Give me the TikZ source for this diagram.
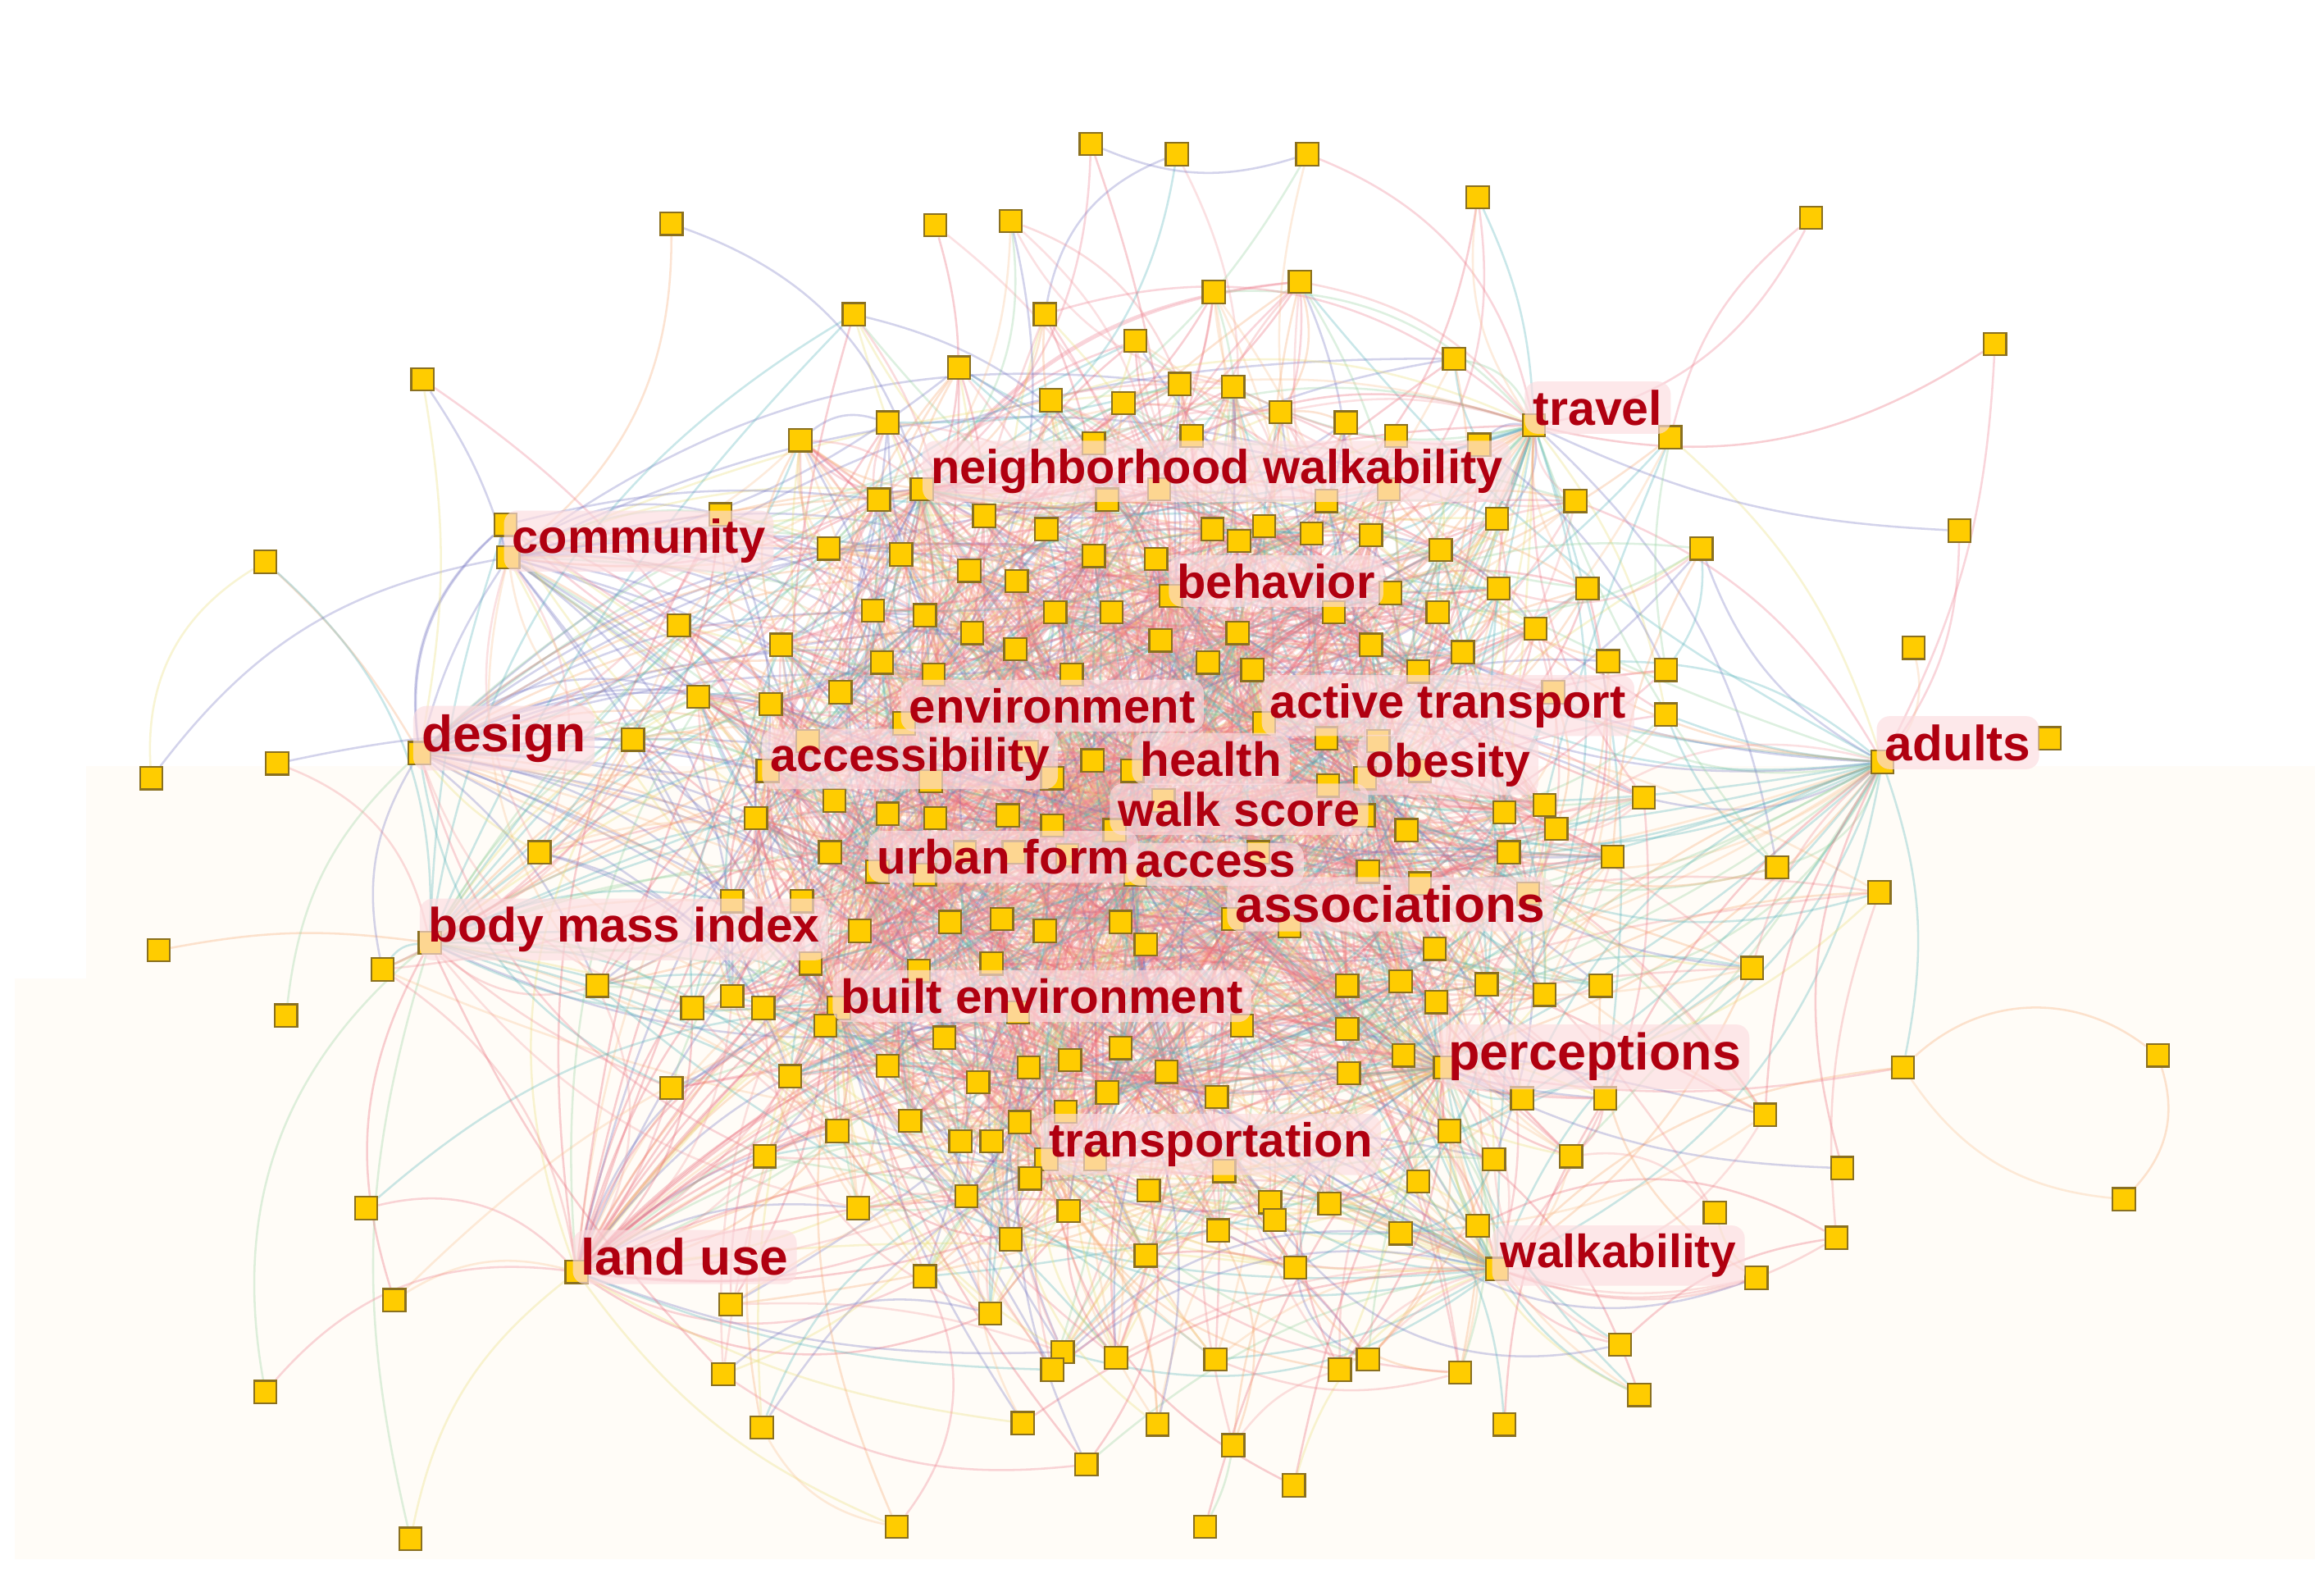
\documentclass[tikz,border=0pt]{standalone}
\usepackage{fontspec}
\setmainfont{Liberation Sans}
\definecolor{sqfill}{HTML}{FFCC00}
\definecolor{sqborder}{HTML}{8A7020}
\definecolor{labred}{HTML}{B00010}
\definecolor{labpink}{HTML}{FCDCE0}
\definecolor{cream}{HTML}{FFFCF7}
\definecolor{ecol1}{HTML}{EE7788}
\definecolor{ecol2}{HTML}{F08890}
\definecolor{ecol3}{HTML}{E86070}
\definecolor{ecol4}{HTML}{F49AA0}
\definecolor{ecol5}{HTML}{4FB0B8}
\definecolor{ecol6}{HTML}{6F6FC0}
\definecolor{ecol7}{HTML}{8FD09A}
\definecolor{ecol8}{HTML}{F7A56B}
\definecolor{ecol9}{HTML}{F9BE8C}
\definecolor{ecol10}{HTML}{E8DC70}
\newcommand\labsize[1]{\fontsize{#1pt}{#1pt}\selectfont\bfseries}
\pgfdeclarelayer{bg}\pgfdeclarelayer{edges}\pgfsetlayers{bg,edges,main}
\begin{document}
\begin{tikzpicture}[x=0.01cm,y=-0.01cm,
  sq/.style={draw=sqborder,fill=sqfill,line width=0.35pt,minimum size=4.3pt,inner sep=0pt},
  lab/.style={fill=labpink,fill opacity=0.65,text opacity=1,text=labred,rounded corners=2.5pt,inner sep=1.6pt},
  edge/.style={line width=0.4pt,draw opacity=0.3}]
\begin{pgfonlayer}{bg}
\fill[white] (0,0) rectangle (1568,1058);
\fill[cream] (58,517) rectangle (1562,1052);
\fill[cream] (10,660) rectangle (58,1052);
\end{pgfonlayer}
\useasboundingbox (0,0) rectangle (1568,1058);
% nodes: 1-21 are the labelled hubs
\foreach \x/\y [count=\i] in {622/330,1035/287,343/376,790/402,610/488,853/488,283/508,518/520,764/520,921/525,1270/514,752/560,592/588,766/590,832/620,290/636,566/680,975/720,706/782,389/858,1010/856,
736/97,794/104,882/104,997/133,1222/147,453/151,631/152,682/149,877/190,819/197,576/212,705/212,766/230,1346/232,981/242,647/248,285/256,796/259,832/261,709/270,758/272,864/278,908/285,599/285,540/297,738/299,804/294,942/294,998/300,1127/295,593/337,664/348,706/357,747/337,782/330,818/357,853/355,895/338,937/330,1010/350,1063/338,341/354,486/347,1322/358,559/370,608/374,654/385,686/392,738/375,780/377,836/365,885/360,925/361,972/371,1148/370,179/379,1011/397,1071/397,938/400,589/412,624/415,656/427,712/413,750/413,835/427,900/413,970/413,458/422,1291/437,1036/424,527/435,595/447,630/455,685/438,723/455,783/432,815/447,845/452,925/435,957/453,987/440,1085/446,1124/452,471/470,520/475,567/467,1124/482,1048/467,427/499,545/500,693/507,737/513,895/498,930/500,958/520,1383/498,187/515,102/525,628/527,710/525,896/530,510/552,563/540,599/549,631/552,680/550,710/557,785/540,920/550,949/560,1015/548,1042/543,1050/559,1109/538,364/575,560/575,624/590,651/575,684/575,720/577,1018/575,1088/578,1199/585,923/588,958/596,849/575,494/608,541/608,580/628,641/622,676/620,705/628,756/622,773/637,870/625,968/640,1268/602,1031/603,107/641,258/654,547/650,620/655,669/650,1182/653,403/665,467/680,494/672,515/680,557/692,637/700,687/683,909/665,945/662,969/676,1003/664,1042/671,1080/665,193/685,838/692,909/694,599/719,660/730,694/720,722/715,756/707,787/723,910/724,947/712,533/726,453/734,614/756,688/757,719/750,747/737,821/740,1027/741,1083/741,1191/752,516/780,565/763,648/770,669/770,695/795,739/782,775/803,826/790,978/763,1008/782,1060/780,1243/788,247/815,579/815,652/807,721/817,857/811,860/823,897/812,957/797,1157/818,1239/835,997/827,682/836,822/830,945/832,773/847,1185/862,624/861,874/855,266/877,493/880,668/886,717/912,710/924,753/916,820/917,904/924,923/917,985/926,1093/907,1106/941,488/927,179/939,514/963,690/960,781/961,832/975,1015/961,733/988,873/1002,605/1030,813/1030}
{\node[sq] (n\i) at (\x,\y) {};
 \expandafter\xdef\csname px\i\endcsname{\x}%
 \expandafter\xdef\csname py\i\endcsname{\y}%
 \xdef\nnodes{\i}}
% outlying keywords
\node[sq] (pa) at (1284,720) {};
\node[sq] (pb) at (1456,712) {};
\node[sq] (pc) at (1433,809) {};
\node[sq] (pd) at (277,1038) {};
% connectors
\pgfmathsetseed{4242}
\begin{pgfonlayer}{edges}
\draw[edge,draw=ecol8] (pa) to[bend left=40] (pb);
\draw[edge,draw=ecol8] (pb) to[bend left=30] (pc);
\draw[edge,draw=ecol9] (pa) to[bend right=25] (pc);
\draw[edge,draw=ecol5] (pa) to[bend right=15] (n11);
\draw[edge,draw=ecol1] (pa) to[bend left=10] (n18);
\draw[edge,draw=ecol8] (pa) to[bend right=20] (n21);
\draw[edge,draw=ecol10] (pd) to[bend left=20] (n20);
\draw[edge,draw=ecol7] (pd) to[bend left=15] (n16);
\foreach \h/\hc/\hn in {1/ecol1/40,2/ecol5/35,3/ecol6/40,4/ecol1/40,5/ecol2/40,6/ecol8/35,7/ecol6/45,8/ecol3/35,9/ecol1/45,10/ecol8/35,11/ecol5/40,12/ecol2/35,13/ecol6/35,14/ecol4/35,15/ecol1/40,16/ecol5/40,17/ecol3/45,18/ecol8/40,19/ecol2/40,20/ecol3/50,21/ecol5/40}{
 \foreach \k in {1,...,\hn}{
  \pgfmathtruncatemacro\b{random(1,\nnodes)}
  \edef\xa{\csname px\h\endcsname}\edef\ya{\csname py\h\endcsname}
  \edef\xb{\csname px\b\endcsname}\edef\yb{\csname py\b\endcsname}
  \pgfmathsetmacro\dd{veclen((\xa-\xb)/100,(\ya-\yb)/100)}
  \pgfmathsetmacro\eb{((\xb-760)/560)^2+((\yb-560)/400)^2}
  \pgfmathtruncatemacro\c{random(1,10)}
  \pgfmathtruncatemacro\bd{random(6,28)}
  \ifnum\c<6 \edef\col{\hc}\else\edef\col{ecol\c}\fi
  \ifdim\dd pt<7.5pt \ifdim\dd pt>0.1pt \ifdim\eb pt<1pt
   \draw[edge,draw=\col] (n\h) to[bend left=\bd] (n\b);
  \fi\fi\fi
 }
}
% every keyword linked to some nearby hubs
\foreach \i in {22,...,\nnodes}{
 \edef\xa{\csname px\i\endcsname}\edef\ya{\csname py\i\endcsname}
 \pgfmathsetmacro\ea{((\xa-770)/330)^2+((\ya-560)/240)^2}
 \foreach \h in {1,...,21}{
  \edef\xb{\csname px\h\endcsname}\edef\yb{\csname py\h\endcsname}
  \pgfmathsetmacro\dd{veclen((\xa-\xb)/100,(\ya-\yb)/100)}
  \pgfmathsetmacro\rr{rnd}
  \pgfmathtruncatemacro\c{random(1,10)}
  \pgfmathtruncatemacro\bd{random(8,30)}
  \ifdim\ea pt>1pt
   \ifdim\dd pt<3.6pt \ifdim\rr pt<0.55pt
    \draw[edge,draw=ecol\c] (n\i) to[bend left=\bd] (n\h);
   \fi\fi
  \else
   \ifdim\dd pt<2.5pt \ifdim\rr pt<0.2pt
    \draw[edge,draw=ecol\c] (n\i) to[bend left=\bd] (n\h);
   \fi\fi
  \fi
 }
}
% sparse short links everywhere
\foreach \k in {1,...,2200}{
  \pgfmathtruncatemacro\a{random(1,\nnodes)}
  \pgfmathtruncatemacro\b{random(1,\nnodes)}
  \edef\xa{\csname px\a\endcsname}\edef\ya{\csname py\a\endcsname}
  \edef\xb{\csname px\b\endcsname}\edef\yb{\csname py\b\endcsname}
  \pgfmathsetmacro\dd{veclen((\xa-\xb)/100,(\ya-\yb)/100)}
  \pgfmathtruncatemacro\c{random(1,10)}
  \pgfmathtruncatemacro\bd{random(8,32)}
  \ifdim\dd pt<2.6pt \ifdim\dd pt>0.1pt
   \draw[edge,draw=ecol\c] (n\a) to[bend left=\bd] (n\b);
  \fi\fi
}
% dense links in the core
\foreach \k in {1,...,2600}{
  \pgfmathtruncatemacro\a{random(1,\nnodes)}
  \pgfmathtruncatemacro\b{random(1,\nnodes)}
  \edef\xa{\csname px\a\endcsname}\edef\ya{\csname py\a\endcsname}
  \edef\xb{\csname px\b\endcsname}\edef\yb{\csname py\b\endcsname}
  \pgfmathsetmacro\ea{((\xa-770)/330)^2+((\ya-560)/240)^2}
  \pgfmathsetmacro\eb{((\xb-770)/330)^2+((\yb-560)/240)^2}
  \pgfmathtruncatemacro\c{random(1,6)}
  \ifnum\c=6 \pgfmathtruncatemacro\c{random(5,10)}\fi
  \pgfmathtruncatemacro\bd{random(8,32)}
  \ifdim\ea pt<1pt \ifdim\eb pt<1pt \ifnum\a=\b\else
   \draw[edge,draw=ecol\c] (n\a) to[bend left=\bd] (n\b);
  \fi\fi\fi
}
\end{pgfonlayer}
% labels
\node[lab,font=\labsize{9.1}] (l1) at (821,318) {neighborhood walkability};
\node[lab,font=\labsize{9.3}] (l2) at (1078,275) {travel};
\node[lab,font=\labsize{9.1}] (l3) at (431,365) {community};
\node[lab,font=\labsize{9.1}] (l4) at (861,392) {behavior};
\node[lab,font=\labsize{9.15}] (l5) at (710,476) {environment};
\node[lab,font=\labsize{9.1}] (l6) at (977,476) {active transport};
\node[lab,font=\labsize{9.8}] (l7) at (340,498) {design};
\node[lab,font=\labsize{9.0}] (l8) at (614,512) {accessibility};
\node[lab,font=\labsize{9.2}] (l9) at (817,512) {health};
\node[lab,font=\labsize{9.0}] (l10) at (977,516) {obesity};
\node[lab,font=\labsize{9.5}] (l11) at (1321,501) {adults};
\node[lab,font=\labsize{9.07}] (l12) at (836,546) {walk score};
\node[lab,font=\labsize{9.2}] (l13) at (677,578) {urban form};
\node[lab,font=\labsize{9.2}] (l14) at (820,583) {access};
\node[lab,font=\labsize{9.8}] (l15) at (938,610) {associations};
\node[lab,font=\labsize{9.26}] (l16) at (421,627) {body mass index};
\node[lab,font=\labsize{9.19}] (l17) at (703,672) {built environment};
\node[lab,font=\labsize{9.9}] (l18) at (1076,713) {perceptions};
\node[lab,font=\labsize{9.15}] (l19) at (817,772) {transportation};
\node[lab,font=\labsize{9.8}] (l20) at (462,848) {land use};
\node[lab,font=\labsize{8.95}] (l21) at (1092,847) {walkability};
\end{tikzpicture}
\end{document}
